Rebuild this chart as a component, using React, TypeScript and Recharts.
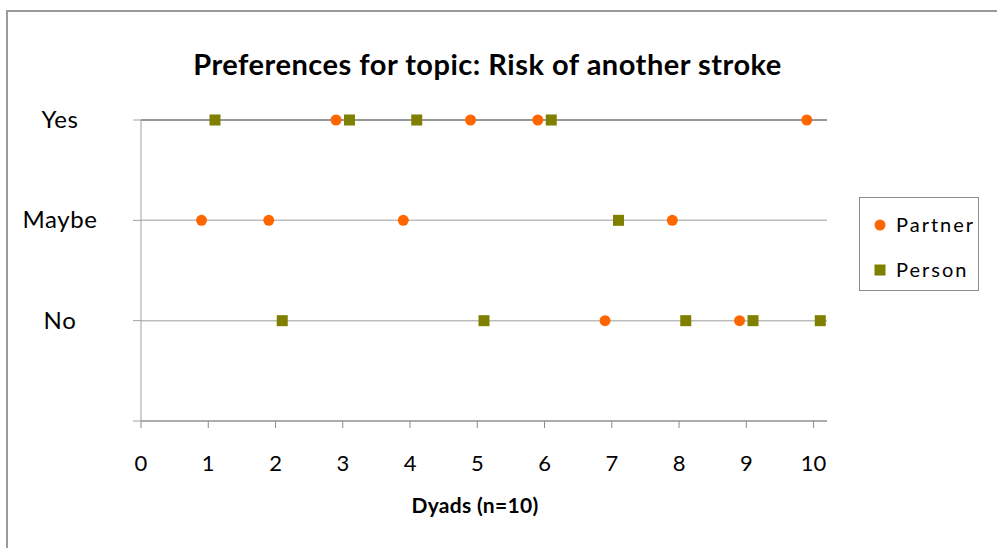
import { ScatterChart, Scatter, XAxis, YAxis, CartesianGrid, ReferenceLine } from 'recharts';

const answers = ['No', 'Maybe', 'Yes'];
const xTicks = [0, 1, 2, 3, 4, 5, 6, 7, 8, 9, 10];
const yTicks = [0, 1, 2, 3];

// partner dots sit just left of the dyad number, person squares just right
const partnerX = [0.9, 1.9, 2.9, 3.9, 4.9, 5.9, 6.9, 7.9, 8.9, 9.9];
const partnerAnswer = ['Maybe', 'Maybe', 'Yes', 'Maybe', 'Yes', 'Yes', 'No', 'Maybe', 'No', 'Yes'];
const personX = [1.1, 2.1, 3.1, 4.1, 5.1, 6.1, 7.1, 8.1, 9.1, 10.1];
const personAnswer = ['Yes', 'No', 'Yes', 'Yes', 'No', 'Yes', 'Maybe', 'No', 'No', 'No'];

const ORANGE = '#ff6600';
const OLIVE = '#808000';
const FONT = 'Lato, "Open Sans", sans-serif';

const toPoints = (xs: number[], ans: string[]) =>
  xs.map((x, i) => ({ x, y: answers.indexOf(ans[i]) + 1 }));

const partnerData = toPoints(partnerX, partnerAnswer);
const personData = toPoints(personX, personAnswer);

const Dot = (props: any) => <circle cx={props.cx} cy={props.cy} r={5.5} fill={ORANGE} />;
const Square = (props: any) => (
  <rect x={props.cx - 5.5} y={props.cy - 5.5} width={11} height={11} fill={OLIVE} />
);

const XTick = (props: any) => {
  const { x, y, payload } = props;
  return (
    <text x={x} y={y + 41} textAnchor="middle" fontSize={22} fontFamily={FONT} fill="#000">
      {payload.value}
    </text>
  );
};

const YTick = (props: any) => {
  const { y, payload } = props;
  const label = payload.value > 0 ? answers[payload.value - 1] : '';
  return (
    <text
      x={60}
      y={y + 8}
      textAnchor="middle"
      fontSize={24}
      letterSpacing={0.6}
      fontFamily={FONT}
      fill="#000"
    >
      {label}
    </text>
  );
};

const LegendBox = () => (
  <div
    style={{
      position: 'absolute',
      left: 859,
      top: 197,
      width: 118,
      height: 92,
      border: '1.5px solid #8c8c8c',
      background: '#fff',
      fontFamily: FONT,
      fontSize: 20,
      letterSpacing: 2,
    }}
  >
    <svg width={20} height={90} style={{ position: 'absolute', left: 12, top: 0 }}>
      <circle cx={8} cy={27} r={5.5} fill={ORANGE} />
      <rect x={2.5} y={66.5} width={11} height={11} fill={OLIVE} />
    </svg>
    <div style={{ position: 'absolute', left: 36, top: 14 }}>Partner</div>
    <div style={{ position: 'absolute', left: 36, top: 59 }}>Person</div>
  </div>
);

const App = () => {
  return (
    <div
      style={{
        position: 'absolute',
        left: 0,
        top: 0,
        width: 997,
        height: 548,
        overflow: 'hidden',
        background: '#fff',
      }}
    >
      <div
        style={{
          position: 'absolute',
          left: 6,
          top: 10,
          width: 1100,
          height: 700,
          border: '2px solid #9a9a9a',
        }}
      />
      <div
        style={{
          position: 'absolute',
          left: 0,
          width: 975,
          top: 46,
          textAlign: 'center',
          fontFamily: FONT,
          fontWeight: 700,
          fontSize: 29,
          letterSpacing: 0.5,
        }}
      >
        Preferences for topic: Risk of another stroke
      </div>
      <div
        style={{
          position: 'absolute',
          left: 0,
          width: 950,
          top: 492,
          textAlign: 'center',
          fontFamily: FONT,
          fontWeight: 700,
          fontSize: 21,
          letterSpacing: 0.3,
        }}
      >
        Dyads (n=10)
      </div>
      <div style={{ position: 'absolute', left: 0, top: 0 }}>
        <ScatterChart width={997} height={548} margin={{ top: 120, right: 170, bottom: 67, left: 0 }}>
          <CartesianGrid horizontal vertical={false} stroke="#bdbdbd" strokeWidth={1.5} />
          <XAxis
            type="number"
            dataKey="x"
            domain={[0, 10.2]}
            ticks={xTicks}
            interval={0}
            height={60}
            tickSize={7}
            tick={<XTick />}
            stroke="#8c8c8c"
            allowDataOverflow
          />
          <YAxis
            type="number"
            dataKey="y"
            domain={[0, 3]}
            ticks={yTicks}
            interval={0}
            width={141}
            tickSize={8}
            tick={<YTick />}
            stroke="#a0a0a0"
          />
          <ReferenceLine y={3} stroke="#858585" strokeWidth={1.5} />
          <Scatter name="Partner" data={partnerData} fill={ORANGE} shape={<Dot />} isAnimationActive={false} />
          <Scatter name="Person" data={personData} fill={OLIVE} shape={<Square />} isAnimationActive={false} />
        </ScatterChart>
      </div>
      <LegendBox />
    </div>
  );
};

export default App;
